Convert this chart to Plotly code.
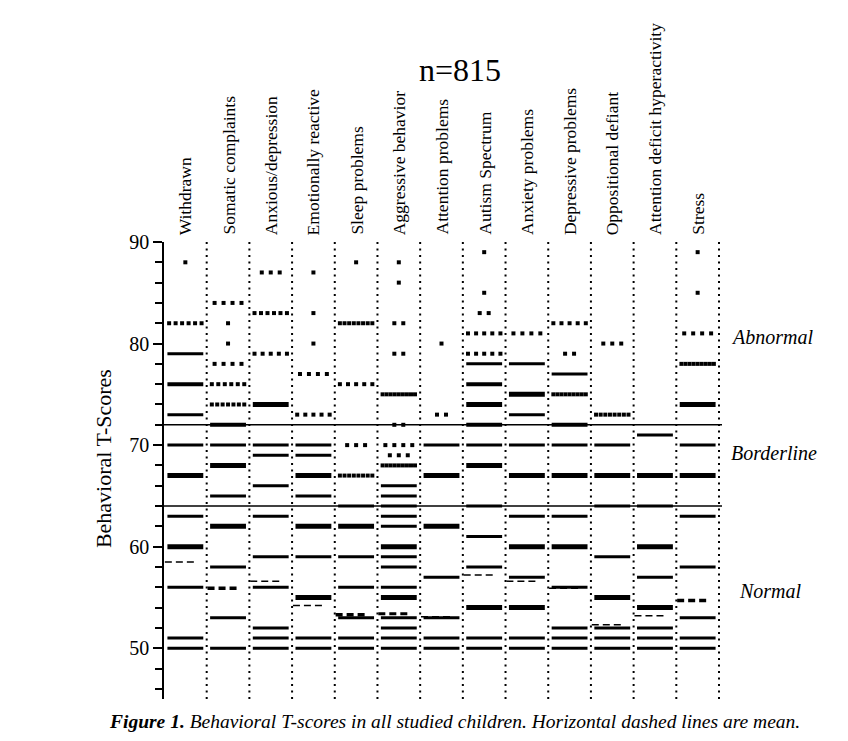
import plotly.graph_objects as go

# ---------------- data ----------------
categories = ["Withdrawn", "Somatic complaints", "Anxious/depression", "Emotionally reactive",
              "Sleep problems", "Aggressive behavior", "Attention problems", "Autism Spectrum",
              "Anxiety problems", "Depressive problems", "Oppositional defiant",
              "Attention deficit hyperactivity", "Stress"]

# T-score levels per scale and the (estimated) number of children at each level
withdrawn_scores = [88, 82, 79, 76, 73, 70, 67, 63, 60, 56, 51, 50]
withdrawn_counts = [1, 6, 20, 40, 20, 20, 60, 20, 60, 20, 20, 20]

somatic_scores = [84, 82, 80, 78, 76, 74, 72, 70, 68, 65, 62, 58, 53, 50]
somatic_counts = [4, 1, 1, 4, 6, 7, 40, 20, 50, 20, 50, 20, 20, 20]

anxious_scores = [87, 83, 79, 74, 70, 69, 66, 63, 59, 56, 52, 51, 50]
anxious_counts = [3, 6, 5, 60, 20, 20, 20, 20, 20, 20, 20, 20, 20]

emotional_scores = [87, 83, 80, 77, 73, 70, 69, 67, 65, 62, 59, 55, 51, 50]
emotional_counts = [1, 1, 1, 4, 5, 20, 20, 50, 20, 50, 20, 50, 20, 20]

sleep_scores = [88, 82, 76, 70, 67, 64, 62, 59, 56, 53, 51, 50]
sleep_counts = [1, 8, 5, 3, 8, 20, 50, 20, 20, 20, 20, 20]

aggressive_scores = [88, 86, 82, 79, 75, 72, 70, 69, 68, 66, 65, 64, 63, 62, 60, 59, 58, 56, 55, 53, 52, 51, 50]
aggressive_counts = [1, 1, 2, 2, 9, 2, 4, 3, 9, 20, 20, 20, 20, 20, 50, 20, 20, 20, 50, 20, 20, 20, 20]

attention_scores = [80, 73, 70, 67, 62, 57, 53, 51, 50]
attention_counts = [1, 2, 20, 50, 50, 20, 20, 20, 20]

autism_scores = [89, 85, 83, 81, 79, 78, 76, 74, 72, 70, 68, 64, 61, 58, 54, 51, 50]
autism_counts = [1, 1, 2, 5, 5, 20, 40, 50, 40, 20, 50, 20, 20, 20, 50, 20, 20]

anxiety_scores = [81, 78, 75, 73, 70, 67, 63, 60, 57, 54, 51, 50]
anxiety_counts = [4, 20, 50, 20, 20, 50, 20, 50, 20, 50, 20, 20]

depressive_scores = [82, 79, 77, 75, 72, 70, 67, 63, 60, 56, 52, 51, 50]
depressive_counts = [5, 2, 20, 9, 40, 20, 50, 20, 50, 20, 20, 20, 20]

oppositional_scores = [80, 73, 70, 67, 64, 59, 55, 52, 51, 50]
oppositional_counts = [3, 8, 20, 50, 20, 20, 50, 20, 20, 20]

adhd_scores = [71, 67, 64, 60, 57, 54, 52, 51, 50]
adhd_counts = [20, 50, 20, 50, 20, 50, 20, 20, 20]

stress_scores = [89, 85, 81, 78, 74, 70, 67, 63, 58, 53, 51, 50]
stress_counts = [1, 1, 4, 9, 60, 20, 50, 20, 20, 20, 20, 20]

means = [58.5, 55.9, 56.6, 54.2, 53.3, 53.4, 53.1, 57.2, 56.6, 55.9, 52.3, 53.2, 54.7]

thresholds = [72, 64]
zone_labels = ["Abnormal", "Borderline", "Normal"]
zone_label_values = [80.6, 69.2, 55.6]

title_text = "n=815"
y_title = "Behavioral T-Scores"
caption = "<b><i>Figure 1.</i></b><i> Behavioral T-scores in all studied children. Horizontal dashed lines are mean.</i>"

scores = [withdrawn_scores, somatic_scores, anxious_scores, emotional_scores, sleep_scores,
          aggressive_scores, attention_scores, autism_scores, anxiety_scores, depressive_scores,
          oppositional_scores, adhd_scores, stress_scores]
counts = [withdrawn_counts, somatic_counts, anxious_counts, emotional_counts, sleep_counts,
          aggressive_counts, attention_counts, autism_counts, anxiety_counts, depressive_counts,
          oppositional_counts, adhd_counts, stress_counts]

# ---------------- styles ----------------
mean_widths = [1.5, 3.5, 1.5, 1.5, 3.5, 3, 1.5, 1.5, 1.5, 1.5, 1.5, 1.5, 3.5]
SERIF = "Liberation Serif, Times New Roman, serif"
SPREAD = 0.76      # max horizontal spread of the points at one level (column units)
STEP_MAX = 0.21    # max gap between neighbouring points
DOT_LIMIT = 10     # levels with more points than this merge into a solid bar


def bar_thickness(n):
    if n < 30:
        return 3
    if n < 50:
        return 4
    return 5


fig = go.Figure()

for i, (sc, cn) in enumerate(zip(scores, counts)):
    dx, dy = [], []
    bars = {}
    for v, n in zip(sc, cn):
        if n <= DOT_LIMIT:
            if n == 1:
                offs = [0.0]
            else:
                step = min(STEP_MAX, SPREAD / (n - 1))
                offs = [(k - (n - 1) / 2) * step for k in range(n)]
            for o in offs:
                dx.append(i + o)
                dy.append(v)
        else:
            th = bar_thickness(n)
            bx, by = bars.setdefault(th, ([], []))
            bx += [i - SPREAD / 2 - 0.04, i + SPREAD / 2 + 0.04, None]
            by += [v, v, None]
    fig.add_trace(go.Scatter(x=dx, y=dy, mode="markers",
                             marker=dict(symbol="square", size=4, color="black",
                                         line=dict(width=0)),
                             hoverinfo="skip", showlegend=False))
    for th, (bx, by) in bars.items():
        fig.add_trace(go.Scatter(x=bx, y=by, mode="lines",
                                 line=dict(color="black", width=th),
                                 hoverinfo="skip", showlegend=False))

for i, m in enumerate(means):
    fig.add_trace(go.Scatter(x=[i - 0.48, i + 0.27], y=[m, m], mode="lines",
                             line=dict(color="black", width=mean_widths[i], dash="7px,4px"),
                             hoverinfo="skip", showlegend=False))

n_cat = len(categories)
shapes = []
# dotted column separators
for i in range(n_cat):
    xp = (i + 1) / n_cat
    shapes.append(dict(type="line", xref="paper", yref="y", x0=xp, x1=xp, y0=45, y1=90,
                       line=dict(color="black", width=2, dash="2px,4.5px")))
# threshold lines
for t in thresholds:
    shapes.append(dict(type="line", xref="paper", yref="y", x0=0, x1=1.0054, y0=t, y1=t,
                       line=dict(color="black", width=1.5)))

annotations = []
for i, c in enumerate(categories):
    annotations.append(dict(x=i, y=90, xref="x", yref="y", text=c, textangle=-90,
                            xanchor="center", yanchor="bottom", yshift=5, showarrow=False,
                            font=dict(family=SERIF, size=17.5, color="black")))
for lab, v in zip(zone_labels, zone_label_values):
    annotations.append(dict(x=1.018 if lab != "Normal" else 1.032, y=v, xref="paper", yref="y",
                            text="<i>" + lab + "</i>", xanchor="left", yanchor="middle",
                            showarrow=False, font=dict(family=SERIF, size=20, color="black")))
annotations.append(dict(x=-0.11, y=0.527, xref="paper", yref="paper", text=y_title,
                        textangle=-90, xanchor="center", yanchor="middle", showarrow=False,
                        font=dict(family=SERIF, size=22, color="black")))
annotations.append(dict(x=0.524, y=-0.05, xref="paper", yref="paper", text=caption,
                        xanchor="center", yanchor="middle", showarrow=False,
                        font=dict(family=SERIF, size=19.5, color="black")))

fig.update_layout(
    width=848, height=741,
    margin=dict(l=164, r=129, t=242, b=42),
    paper_bgcolor="white", plot_bgcolor="white",
    title=dict(text=title_text, x=460 / 848, y=1 - 70 / 741, xanchor="center", yanchor="middle",
               font=dict(family=SERIF, size=32, color="black")),
    shapes=shapes, annotations=annotations,
    xaxis=dict(range=[-0.5, n_cat - 0.5], visible=False, showgrid=False, zeroline=False),
    yaxis=dict(range=[45, 90], showgrid=False, zeroline=False, showline=True,
               linecolor="black", linewidth=1.5, ticks="outside", ticklen=9, tickwidth=1.5,
               tickcolor="black", tickvals=[50, 60, 70, 80, 90],
               tickfont=dict(family=SERIF, size=20, color="black"),
               minor=dict(dtick=2, tick0=0, ticks="outside", ticklen=7, tickwidth=1.5,
                          tickcolor="black", showgrid=False)),
    showlegend=False,
)

fig.write_html("out.html", config={"displayModeBar": False},
               post_script="document.body.style.margin='0';")
